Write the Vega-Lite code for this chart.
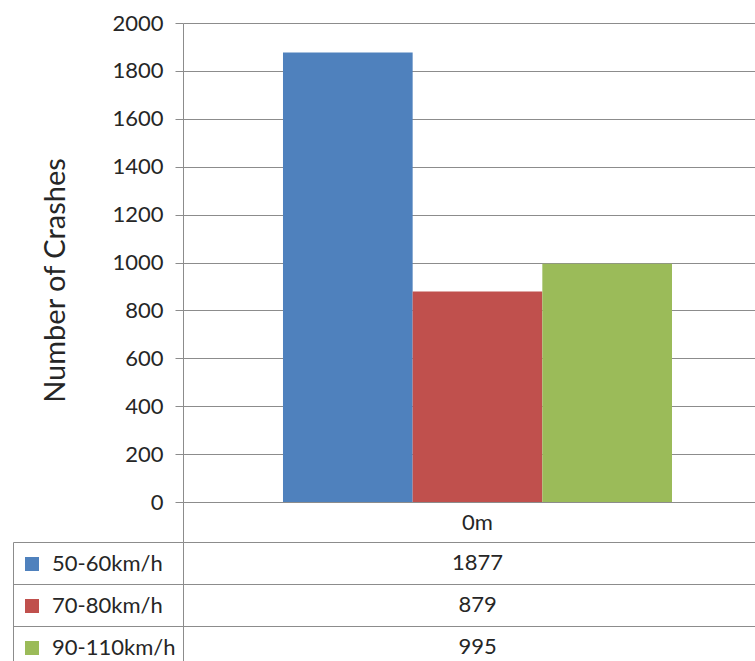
{
  "$schema": "https://vega.github.io/schema/vega-lite/v6.json",
  "autosize": {"type": "pad"},
  "padding": {"left": 12, "top": 12, "right": 0, "bottom": 0},
  "background": "white",
  "bounds": "flush",
  "spacing": 40,
  "data": {
    "values": [
      {"distance": "0m", "series": "50-60km/h", "value": 1877},
      {"distance": "0m", "series": "70-80km/h", "value": 879},
      {"distance": "0m", "series": "90-110km/h", "value": 995}
    ]
  },
  "config": {
    "font": "Lato",
    "view": {"stroke": null},
    "axis": {
      "labelFont": "Lato",
      "titleFont": "Lato",
      "labelColor": "#262626",
      "titleColor": "#262626",
      "labelFontSize": 22,
      "domainColor": "#8c8c8c",
      "tickColor": "#8c8c8c",
      "gridColor": "#8c8c8c",
      "gridOpacity": 1,
      "domainWidth": 1,
      "tickWidth": 1,
      "gridWidth": 1
    }
  },
  "resolve": {"scale": {"x": "independent", "y": "independent", "color": "independent"}},
  "vconcat": [
    {
      "width": 572,
      "height": 479,
      "mark": {"type": "bar"},
      "encoding": {
        "x": {
          "field": "distance",
          "type": "nominal",
          "scale": {"paddingInner": 0, "paddingOuter": 0},
          "axis": {
            "title": null,
            "bandPosition": 0,
            "tickSize": 40,
            "labelOffset": 8.5,
            "labelPadding": -30,
            "labelAngle": 0,
            "grid": false
          }
        },
        "xOffset": {
          "field": "series",
          "type": "nominal",
          "scale": {"paddingInner": 0, "paddingOuter": 0.7056, "align": 0.5464}
        },
        "y": {
          "field": "value",
          "type": "quantitative",
          "scale": {"domain": [0, 2000], "nice": false},
          "axis": {
            "title": "Number of Crashes",
            "titleFontSize": 29,
            "titleFontWeight": "normal",
            "titlePadding": 41,
            "titleY": 257,
            "format": "d",
            "values": [0, 200, 400, 600, 800, 1000, 1200, 1400, 1600, 1800, 2000],
            "tickSize": 8,
            "labelPadding": 12,
            "grid": true
          }
        },
        "color": {
          "field": "series",
          "type": "nominal",
          "scale": {"range": ["#4F81BD", "#C0504D", "#9BBB59"]},
          "legend": {
            "orient": "none",
            "legendX": -162,
            "legendY": 520,
            "title": null,
            "padding": 0,
            "rowPadding": 0,
            "clipHeight": 42,
            "symbolType": "square",
            "symbolSize": 196,
            "symbolStrokeWidth": 0,
            "symbolOpacity": 1,
            "labelFont": "Lato",
            "labelFontSize": 22,
            "labelColor": "#262626",
            "labelOffset": 9
          }
        }
      }
    },
    {
      "width": 572,
      "height": 119,
      "layer": [
        {
          "mark": {"type": "text", "fontSize": 22, "color": "#262626", "font": "Lato"},
          "encoding": {
            "x": {
              "field": "distance",
              "type": "nominal",
              "scale": {"type": "point", "align": 0.5149},
              "axis": null
            },
            "y": {
              "field": "series",
              "type": "nominal",
              "scale": {"type": "point", "padding": 0.41667, "align": 0.614},
              "axis": {
                "title": null,
                "labels": false,
                "tickSize": 170,
                "tickOffset": -21,
                "grid": true
              }
            },
            "text": {"field": "value", "type": "nominal"}
          }
        },
        {
          "mark": {"type": "text", "opacity": 0},
          "encoding": {
            "y": {
              "field": "series",
              "type": "nominal",
              "scale": {"type": "point", "padding": 0.41667, "align": 0.614},
              "axis": {
                "orient": "left",
                "offset": 170,
                "title": null,
                "labels": false,
                "ticks": false,
                "grid": false
              }
            },
            "text": {"value": ""}
          }
        }
      ],
      "resolve": {"scale": {"y": "independent"}}
    }
  ]
}
